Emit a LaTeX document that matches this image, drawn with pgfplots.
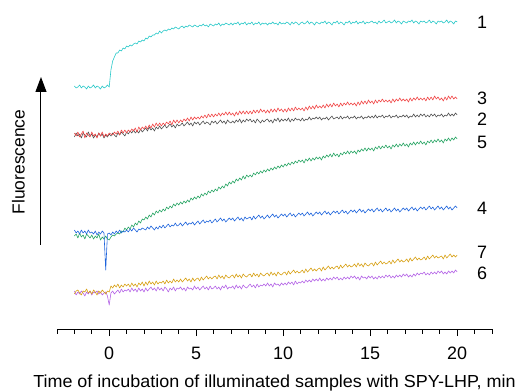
\documentclass[border=0pt]{standalone}
\usepackage{pgfplots}
\pgfplotsset{compat=1.18}
\usepackage{pgfplotstable}
\usepackage{fontspec}
\setmainfont{Liberation Sans}
\newfontfamily\widesans[FakeStretch=1.03]{Liberation Sans}
\usetikzlibrary{arrows.meta}

\definecolor{tr1}{RGB}{40,200,200}
\definecolor{tr2}{RGB}{80,80,80}
\definecolor{tr3}{RGB}{240,70,70}
\definecolor{tr4}{RGB}{30,100,220}
\definecolor{tr5}{RGB}{40,165,100}
\definecolor{tr6}{RGB}{180,100,230}
\definecolor{tr7}{RGB}{215,160,20}

% fluorescence traces (arbitrary units), time in min
\pgfplotstableread{
t c1 c2 c3 c4 c5 c6 c7
-2.0 243 192 196 99 93 38 35
-1.9 241 196 193 96 95 34 38
-1.8 242 193 197 98 91 37 39
-1.7 244 195 192 95 96 35 36
-1.6 241 191 195 99 92 38 34
-1.5 243 196 198 96 94 36 38
-1.4 242 194 191 98 90 33 37
-1.3 240 192 196 95 95 37 40
-1.2 243 197 194 99 93 35 36
-1.1 241 193 192 96 91 38 38
-1.0 242 195 197 97 94 34 35
-0.9 244 191 193 95 90 37 39
-0.8 241 194 195 98 93 36 37
-0.7 243 192 191 94 91 38 34
-0.6 242 196 196 97 95 35 38
-0.5 240 193 193 95 89 37 36
-0.4 243 195 197 98 92 34 39
-0.3 241 191 192 96 90 36 37
-0.2 242 194 195 59 93 37 35
-0.1 244 192 193 95 90 33 38
0.0 242 195 196 96 89 24 37
0.1 259 193 195 94 92 36 43
0.2 268 196 194 97 94 38 41
0.3 272 194 197 95 93 35 44
0.4 276 192 195 98 95 37 42
0.5 276 196 198 96 96 39 45
0.6 279 194 194 99 95 36 41
0.7 278 197 199 96 98 40 44
0.8 281 195 196 98 97 37 42
0.9 280 193 199 97 101 39 45
1.0 283 197 196 99 99 38 43
1.1 282 195 199 97 102 40 45
1.2 284 198 197 100 100 37 42
1.3 283 196 200 98 104 41 46
1.4 285 199 198 101 102 38 43
1.5 286 196 201 99 106 40 45
1.6 285 198 197 97 104 37 42
1.7 288 196 202 100 108 41 46
1.8 287 200 199 99 106 38 44
1.9 289 197 202 101 110 40 47
2.0 288 199 200 100 109 37 43
2.1 291 201 203 99 112 41 47
2.2 290 198 200 102 110 38 44
2.3 293 202 204 100 114 40 48
2.4 292 199 201 103 112 42 45
2.5 294 201 205 101 116 39 47
2.6 294 198 202 99 114 41 44
2.7 296 202 206 102 118 38 48
2.8 295 200 203 100 116 42 45
2.9 298 203 206 103 119 39 47
3.0 296 200 203 101 117 41 46
3.1 298 202 206 104 120 38 48
3.2 299 204 204 101 118 42 45
3.3 298 201 207 103 122 40 49
3.4 300 203 205 105 120 37 46
3.5 299 205 208 102 123 41 48
3.6 301 202 204 104 121 39 46
3.7 300 204 209 103 125 42 50
3.8 302 201 206 106 123 38 47
3.9 301 205 209 103 126 41 49
4.0 300 203 206 104 124 40 47
4.1 302 204 209 106 127 42 50
4.2 303 206 207 103 125 39 47
4.3 301 203 210 105 128 41 49
4.4 303 205 208 107 126 38 51
4.5 302 207 211 104 129 42 48
4.6 304 204 208 106 127 40 50
4.7 303 206 212 105 131 41 47
4.8 302 203 209 107 129 39 51
4.9 304 207 212 104 132 43 48
5.0 303 205 210 106 130 40 50
5.1 302 207 212 108 133 42 51
5.2 304 204 210 105 131 39 48
5.3 303 206 213 107 135 41 52
5.4 305 208 211 109 133 43 49
5.5 303 205 214 106 136 40 51
5.6 304 207 211 108 134 42 53
5.7 302 206 215 107 138 39 50
5.8 305 204 212 109 136 43 52
5.9 304 208 215 106 139 40 50
6.0 303 206 212 108 137 41 52
6.1 305 208 215 110 140 43 53
6.2 304 205 213 107 138 40 50
6.3 306 207 216 109 142 42 54
6.4 303 209 213 111 140 39 51
6.5 305 206 216 108 143 43 53
6.6 304 208 214 110 141 41 50
6.7 306 205 217 107 145 44 54
6.8 305 209 214 109 143 40 52
6.9 304 207 217 111 147 42 51
7.0 306 206 214 109 145 41 53
7.1 304 208 216 111 148 43 54
7.2 306 206 213 108 146 40 51
7.3 305 209 217 110 150 44 55
7.4 307 207 214 112 148 41 52
7.5 304 210 218 109 151 43 54
7.6 306 206 215 111 149 40 51
7.7 305 209 218 108 153 44 55
7.8 307 207 215 112 150 42 53
7.9 304 210 218 110 154 41 52
8.0 306 208 215 111 152 43 54
8.1 305 210 218 112 154 45 55
8.2 307 207 215 109 152 42 52
8.3 304 209 219 113 156 44 56
8.4 306 206 216 110 154 41 53
8.5 305 210 219 112 157 45 55
8.6 307 208 216 114 155 42 52
8.7 304 206 220 111 158 44 56
8.8 306 209 217 113 156 43 54
8.9 305 207 219 110 159 45 53
9.0 306 209 216 112 157 43 55
9.1 304 210 219 114 160 46 56
9.2 306 207 216 111 158 43 53
9.3 305 209 220 113 161 45 57
9.4 307 206 217 115 159 42 54
9.5 305 210 220 112 162 46 56
9.6 306 208 217 114 160 44 53
9.7 304 211 221 111 163 45 57
9.8 307 207 218 113 161 43 55
9.9 305 210 220 115 164 46 54
10.0 306 208 217 113 162 44 56
10.1 305 210 220 115 165 46 57
10.2 307 208 217 112 163 44 54
10.3 306 211 221 114 166 47 58
10.4 304 207 218 116 164 45 55
10.5 307 210 221 113 167 47 57
10.6 305 208 218 115 165 44 59
10.7 307 211 222 112 168 48 56
10.8 306 209 219 114 166 45 58
10.9 304 210 221 116 169 47 56
11.0 306 208 219 114 167 46 57
11.1 307 211 221 116 169 48 59
11.2 305 208 218 113 166 46 56
11.3 306 210 222 115 170 49 60
11.4 308 209 219 117 168 47 57
11.5 305 212 223 114 171 49 59
11.6 307 209 220 116 168 47 61
11.7 306 211 223 113 171 50 58
11.8 304 210 220 115 169 48 60
11.9 307 212 224 117 172 50 58
12.0 306 210 221 115 170 48 60
12.1 305 212 223 117 172 51 61
12.2 307 209 221 114 169 48 58
12.3 306 211 224 116 173 50 62
12.4 308 210 221 118 171 48 59
12.5 305 212 225 115 174 51 61
12.6 307 209 222 117 172 49 63
12.7 306 211 225 114 175 51 60
12.8 304 213 222 116 172 49 62
12.9 307 210 226 118 176 52 60
13.0 306 211 223 116 173 50 62
13.1 308 212 225 118 175 52 63
13.2 305 210 222 115 172 49 60
13.3 307 213 226 117 176 51 64
13.4 306 210 223 119 174 49 61
13.5 304 212 226 116 177 52 63
13.6 307 211 224 118 175 50 65
13.7 306 213 227 115 178 52 62
13.8 308 210 224 117 175 50 64
13.9 305 212 226 119 178 53 62
14.0 307 211 224 117 176 51 63
14.1 306 213 226 119 178 53 65
14.2 308 210 223 116 175 50 62
14.3 305 212 227 118 179 52 66
14.4 307 211 224 120 177 49 63
14.5 306 213 228 117 180 53 65
14.6 308 210 225 119 178 51 62
14.7 305 212 228 116 181 52 66
14.8 307 211 225 118 178 50 64
14.9 306 213 229 120 181 53 63
15.0 307 211 226 118 179 51 65
15.1 308 213 228 120 181 53 66
15.2 306 211 225 117 178 50 63
15.3 307 214 229 119 182 52 67
15.4 305 211 226 121 180 50 64
15.5 308 213 229 118 183 53 66
15.6 306 212 227 120 180 51 68
15.7 307 214 230 117 183 53 65
15.8 309 211 227 119 181 51 67
15.9 306 213 229 121 184 54 65
16.0 307 212 227 118 181 52 66
16.1 308 214 229 120 183 54 68
16.2 306 211 226 117 180 51 65
16.3 307 213 230 119 184 53 69
16.4 309 212 227 121 182 51 66
16.5 306 214 230 118 185 54 68
16.6 308 211 228 120 182 52 70
16.7 307 213 231 117 185 54 67
16.8 305 212 228 119 183 52 69
16.9 308 214 230 121 186 55 67
17.0 307 212 228 119 183 53 68
17.1 306 214 230 121 185 55 70
17.2 308 211 227 118 182 52 67
17.3 307 213 231 120 186 54 71
17.4 309 212 228 122 184 52 68
17.5 306 215 231 119 187 55 70
17.6 308 212 229 121 184 53 72
17.7 307 214 232 118 187 56 69
17.8 305 212 229 120 185 54 71
17.9 308 215 231 122 188 56 69
18.0 307 213 229 120 185 55 70
18.1 308 215 231 122 187 57 72
18.2 306 212 228 119 184 54 69
18.3 307 214 232 121 188 56 73
18.4 309 212 229 123 186 54 70
18.5 306 215 232 120 189 57 72
18.6 308 213 229 122 186 55 74
18.7 307 215 233 119 189 57 71
18.8 305 212 230 121 187 55 73
18.9 308 214 232 123 190 58 71
19.0 307 213 229 120 187 56 72
19.1 308 215 231 122 189 58 73
19.2 306 212 228 119 186 55 70
19.3 307 214 232 121 190 57 74
19.4 309 213 229 123 188 55 71
19.5 306 216 233 120 191 58 73
19.6 308 213 230 122 188 56 75
19.7 307 215 233 119 191 58 72
19.8 305 213 230 121 189 56 74
19.9 308 216 232 123 192 59 72
20.0 307 214 230 121 190 57 74
}\traces

\begin{document}
\begin{tikzpicture}
\begin{axis}[
  scale only axis,
  width=435bp, height=324bp,
  xmin=-3, xmax=22, ymin=0, ymax=324,
  axis x line=bottom, axis y line=none,
  x axis line style={-, line width=0.8pt},
  xtick={0,5,10,15,20},
  minor xtick={-3,-2,...,22},
  tick align=outside,
  major tick length=7bp, minor tick length=4.5bp,
  every tick/.style={black, line width=0.8pt},
  /pgf/number format/assume math mode=true,
  tick label style={font=\fontsize{18}{21}\selectfont},
  xticklabel style={anchor=center, yshift=-17bp},
  xlabel={Time of incubation of illuminated samples with SPY-LHP, min},
  xlabel style={font=\widesans\fontsize{17.5}{21}\selectfont,
    at={(axis description cs:0.5,0)}, anchor=center, yshift=-54bp},
  clip=false,
  every axis plot/.append style={line width=0.6pt, line join=round},
]
\addplot[tr5] table[x=t, y=c5] {\traces};
\addplot[tr4] table[x=t, y=c4] {\traces};
\addplot[tr2] table[x=t, y=c2] {\traces};
\addplot[tr3] table[x=t, y=c3] {\traces};
\addplot[tr1] table[x=t, y=c1] {\traces};
\addplot[tr6] table[x=t, y=c6] {\traces};
\addplot[tr7] table[x=t, y=c7] {\traces};

% trace numbers
\begin{scope}[font=\fontsize{18}{21}\selectfont]
\node at (axis cs:21.43,307) {1};
\node at (axis cs:21.43,231) {3};
\node at (axis cs:21.43,210) {2};
\node at (axis cs:21.43,187) {5};
\node at (axis cs:21.43,121) {4};
\node at (axis cs:21.43,77) {7};
\node at (axis cs:21.43,56) {6};
\end{scope}

% ordinate: arrow and caption
\draw[line width=1pt, -{Triangle[length=15bp,width=11bp]}]
  (axis cs:-3.92,84) -- (axis cs:-3.92,252);
\node[rotate=90, font=\fontsize{17.5}{21}\selectfont] at (axis cs:-5.22,167) {Fluorescence};

\coordinate (bbsw) at (axis cs:-6.276,-62);
\coordinate (bbne) at (axis cs:23.954,329);
\end{axis}
\pgfresetboundingbox
\path[use as bounding box] (bbsw) rectangle (bbne);
\end{tikzpicture}
\end{document}
